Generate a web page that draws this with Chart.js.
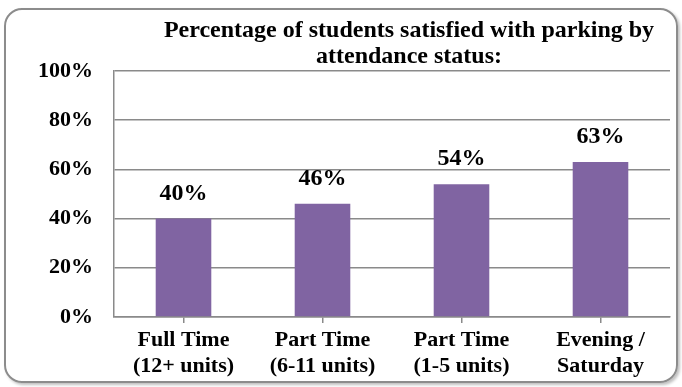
<!DOCTYPE html>
<html>
<head>
<meta charset="utf-8">
<script src="https://cdn.jsdelivr.net/npm/chart.js@4"></script>
<style>
  html, body { margin: 0; padding: 0; background: #fff; }
  #frame {
    position: absolute; left: 4px; top: 8px; width: 670px; height: 371px;
    border: 2px solid #8c8c8c; border-radius: 18px;
    box-shadow: 2px 2px 3px rgba(0,0,0,0.25);
  }
  #chart { position: absolute; left: 0; top: 0; }
</style>
</head>
<body>
<div id="frame"></div>
<canvas id="chart" width="682" height="387"></canvas>
<script>
const titleLines = ['Percentage of students satisfied with parking by', 'attendance status:'];
const categories = [['Full Time', '(12+ units)'], ['Part Time', '(6-11 units)'], ['Part Time', '(1-5 units)'], ['Evening /', 'Saturday']];
const satisfied = [40, 46, 54, 63];
const yTicks = [0, 20, 40, 60, 80, 100];

const serif = '"Liberation Serif", "Times New Roman", serif';
const gridColor = '#8a8a8a';

// title drawn by hand so it can sit off-centre like the original
const titlePlugin = {
  id: 'titleLines',
  afterDraw: (chart) => {
    const ctx = chart.ctx;
    ctx.save();
    ctx.font = `bold 24px ${serif}`;
    ctx.fillStyle = '#000';
    ctx.textAlign = 'center';
    ctx.textBaseline = 'middle';
    ctx.fillText(titleLines[0], 409, 31);
    ctx.fillText(titleLines[1], 409, 57);
    ctx.restore();
  }
};

const valueLabels = {
  id: 'valueLabels',
  afterDatasetsDraw: (chart) => {
    const ctx = chart.ctx;
    const meta = chart.getDatasetMeta(0);
    ctx.save();
    ctx.font = `bold 24px ${serif}`;
    ctx.fillStyle = '#000';
    ctx.textAlign = 'center';
    ctx.textBaseline = 'middle';
    meta.data.forEach((bar, i) => {
      ctx.fillText(satisfied[i] + '%', bar.x, bar.y - 25);
    });
    ctx.restore();
  }
};

new Chart(document.getElementById('chart'), {
  type: 'bar',
  data: {
    labels: categories,
    datasets: [{ data: satisfied, backgroundColor: '#8064a2', barPercentage: 0.4, categoryPercentage: 1 }]
  },
  options: {
    responsive: false,
    animation: false,
    layout: { padding: { top: 71, right: 12, left: 0, bottom: 0 } },
    plugins: { legend: { display: false }, tooltip: { enabled: false } },
    scales: {
      y: {
        min: 0, max: 100,
        afterFit: (axis) => { axis.width = 114; },
        afterBuildTicks: (axis) => { axis.ticks = yTicks.map((v) => ({ value: v })); },
        ticks: { callback: (v) => v + '%', color: '#000', padding: 21, font: { family: serif, size: 22, weight: 'bold' } },
        grid: { color: gridColor, lineWidth: 1.5, drawTicks: false },
        border: { color: gridColor, width: 1.5 }
      },
      x: {
        afterFit: (axis) => { axis.height = 70; },
        ticks: { color: '#000', padding: 5, font: { family: serif, size: 22, weight: 'bold', lineHeight: 1.15 } },
        grid: { offset: false, drawOnChartArea: false, color: gridColor, lineWidth: 1.5, tickLength: 6 },
        border: { color: gridColor, width: 1.5 }
      }
    }
  },
  plugins: [titlePlugin, valueLabels]
});
</script>
</body>
</html>
